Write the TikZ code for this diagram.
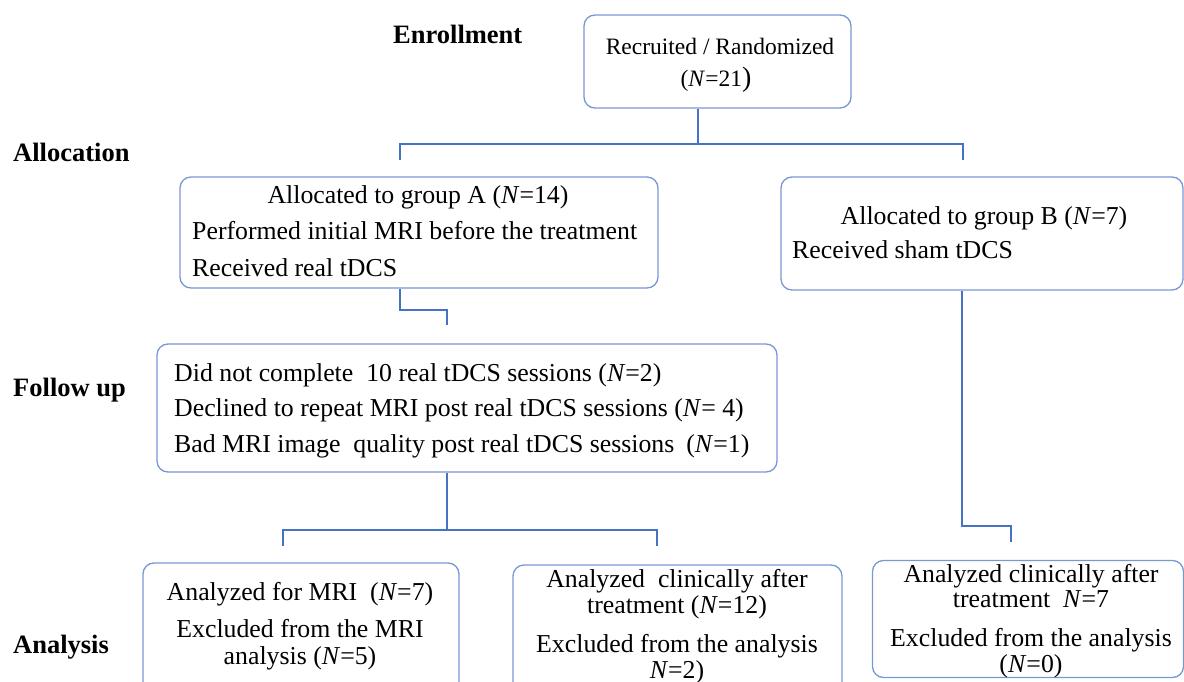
\documentclass[tikz,border=0pt]{standalone}
\usepackage{fontspec}
\setmainfont{Liberation Serif}
\definecolor{boxblue}{RGB}{120,152,212}
\definecolor{lineblue}{RGB}{68,114,196}
\newcommand{\NN}{\textit{N}}
\begin{document}
\begin{tikzpicture}[x=1pt,y=-1pt,
  box/.style={draw=boxblue, line width=1.3pt, rounded corners=11pt, inner sep=0pt},
  conn/.style={draw=lineblue, line width=1.4pt},
  txt/.style={inner sep=0pt, font=\fontsize{25.8}{25.8}\selectfont},
  stxt/.style={inner sep=0pt, font=\fontsize{23.5}{23.5}\selectfont},
  lbl/.style={inner sep=0pt, font=\fontsize{26.5}{26.5}\selectfont\bfseries, anchor=base west}]

\useasboundingbox (0,0) rectangle (1184,682);
\fill[white] (0,0) rectangle (1184,682);
\clip (0,0) rectangle (1184,682);

% stage labels
\node[lbl] (lEnr) at (393,44) {Enrollment};
\node[lbl] (lAll) at (13,162) {Allocation};
\node[lbl] (lFol) at (13,396) {Follow up};
\node[lbl] (lAna) at (13,653) {Analysis};

% boxes
\node[box, minimum width=267pt, minimum height=93pt] (rec) at (717.5,61.5) {};
\node[box, minimum width=478pt, minimum height=111pt] (boxA) at (419,232.5) {};
\node[box, minimum width=402pt, minimum height=113pt] (boxB) at (982,233.5) {};
\node[box, minimum width=620pt, minimum height=128pt] (fu) at (467,408) {};
\node[box, minimum width=316pt, minimum height=140pt] (mri) at (301,633) {};
\node[box, minimum width=329pt, minimum height=140pt] (clin) at (677.5,635) {};
\node[box, minimum width=311pt, minimum height=117pt] (sham) at (1028,619) {};

% texts
\node[stxt, anchor=base] (t1) at (720,55) {Recruited / Randomized};
\node[stxt, anchor=base] (t2) at (716,87) {(\NN=21{\fontsize{28}{28}\selectfont )}};

\node[txt, anchor=base] (tA1) at (418,204) {Allocated to group A (\NN=14)};
\node[txt, anchor=base west] (tA2) at (192,240) {Performed initial MRI before the treatment};
\node[txt, anchor=base west] (tA3) at (192,276) {Received real tDCS};

\node[txt, anchor=base] (tB1) at (984,224) {Allocated to group B (\NN=7)};
\node[txt, anchor=base west] (tB2) at (792,258) {Received sham tDCS};

\node[txt, anchor=base west] (tF1) at (174,381) {Did not complete\ \ 10 real tDCS sessions (\NN=2)};
\node[txt, anchor=base west] (tF2) at (174,416) {Declined to repeat MRI post real tDCS sessions (\NN= 4)};
\node[txt, anchor=base west] (tF3) at (174,452) {Bad MRI image\ \ quality post real tDCS sessions\hspace{12pt}(\NN=1)};

\node[txt, anchor=base] (tM1) at (300,600) {Analyzed for MRI\ \ (\NN=7)};
\node[txt, anchor=base] (tM2) at (300,637) {Excluded from the MRI};
\node[txt, anchor=base] (tM3) at (300,664) {analysis (\NN=5)};

\node[txt, anchor=base] (tC1) at (677,587) {Analyzed\ \ clinically after};
\node[txt, anchor=base] (tC2) at (677,613) {treatment (\NN=12)};
\node[txt, anchor=base] (tC3) at (677,652) {Excluded from the analysis};
\node[txt, anchor=base] (tC4) at (677,678) {\NN=2)};

\node[txt, anchor=base] (tS1) at (1031,582) {Analyzed clinically after};
\node[txt, anchor=base] (tS2) at (1031,607) {treatment\ \ \NN=7};
\node[txt, anchor=base] (tS3) at (1031,646) {Excluded from the analysis};
\node[txt, anchor=base] (tS4) at (1031,672) {(\NN=0)};

% junction coordinates
\coordinate (j1) at (698,144);
\coordinate (aTop) at (400,160);
\coordinate (bTop) at (963,160);
\coordinate (a1) at (400,310);
\coordinate (fuIn) at (447,325);
\coordinate (f1) at (447,530);
\coordinate (mriIn) at (283,546);
\coordinate (clinIn) at (657,546);
\coordinate (b1) at (962,526);
\coordinate (shIn) at (1011,542);

% connectors
\draw[conn] (rec.south -| j1) -- (j1);
\draw[conn] (aTop) -- (aTop |- j1) -- (bTop |- j1) -- (bTop);
\draw[conn] (boxA.south -| a1) -- (a1) -- (a1 -| fuIn) -- (fuIn);
\draw[conn] (fu.south -| f1) -- (f1);
\draw[conn] (mriIn) -- (mriIn |- f1) -- (clinIn |- f1) -- (clinIn);
\draw[conn] (boxB.south -| b1) -- (b1) -- (b1 -| shIn) -- (shIn);
\end{tikzpicture}
\end{document}
